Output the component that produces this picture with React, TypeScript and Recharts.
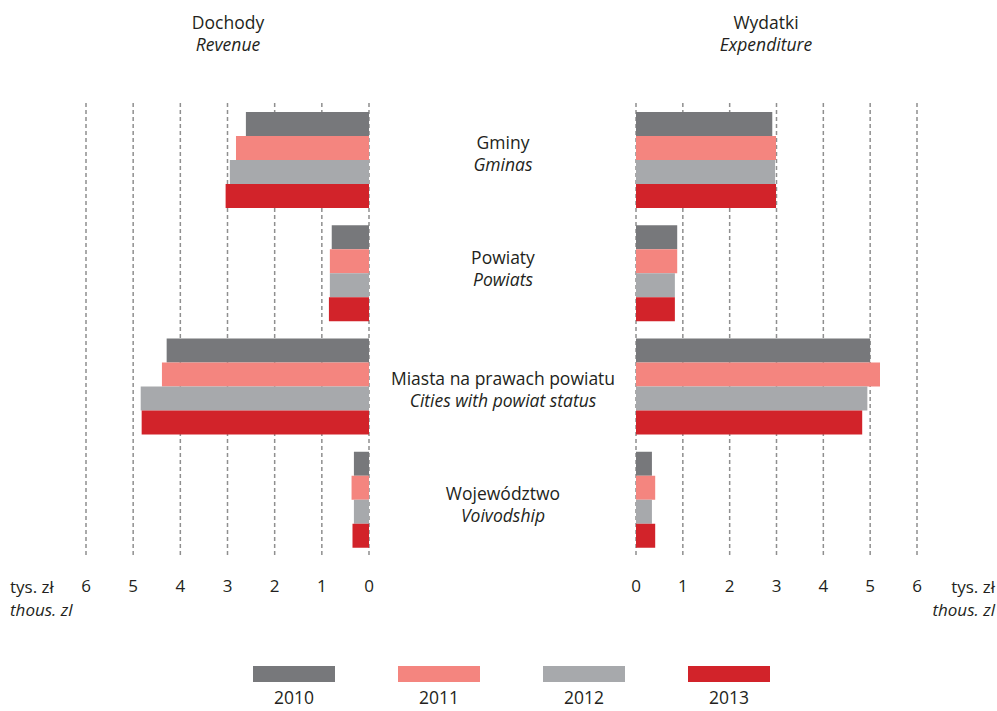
import { BarChart, Bar, XAxis, YAxis, CartesianGrid } from 'recharts'

const categories = ['Gminy', 'Powiaty', 'Miasta na prawach powiatu', 'Województwo']
const categoriesEn = ['Gminas', 'Powiats', 'Cities with powiat status', 'Voivodship']
const years = ['2010', '2011', '2012', '2013']
const colors = ['#77787b', '#f4857f', '#a7a9ac', '#d2232a']

// thous. zl per capita
const revenue2010 = [2.61, 0.79, 4.29, 0.32]
const revenue2011 = [2.82, 0.83, 4.39, 0.37]
const revenue2012 = [2.95, 0.83, 4.84, 0.32]
const revenue2013 = [3.04, 0.85, 4.82, 0.35]

const expenditure2010 = [2.91, 0.88, 5.0, 0.34]
const expenditure2011 = [2.99, 0.88, 5.21, 0.41]
const expenditure2012 = [2.97, 0.83, 4.94, 0.34]
const expenditure2013 = [2.99, 0.83, 4.83, 0.41]

const xTicks = [0, 1, 2, 3, 4, 5, 6]

const FONT = '"Open Sans", sans-serif'
const TEXT = '#231f20'

function buildRows(series: number[][]) {
  return categories.map((c, i) => {
    const row: Record<string, number | string> = { name: c, en: categoriesEn[i] }
    years.forEach((y, k) => {
      row[y] = series[k][i]
    })
    return row
  })
}

const revenueRows = buildRows([revenue2010, revenue2011, revenue2012, revenue2013])
const expenditureRows = buildRows([expenditure2010, expenditure2011, expenditure2012, expenditure2013])

// small nudges so the two-line labels sit where they do in the source
const labelShift = [-6, -4, 4, 6]
const RIGHT_LEFT = 350 // page x of the right chart's svg
const LABEL_X = 503 - RIGHT_LEFT

function CategoryTick(props: any) {
  const { y, payload, index } = props
  const shift = labelShift[index] ?? 0
  const en = categoriesEn[categories.indexOf(payload.value)]
  return (
    <g>
      <text x={LABEL_X} y={y - 5 + shift} textAnchor="middle" fill={TEXT} fontSize={17.5} fontFamily={FONT}>
        {payload.value}
      </text>
      <text x={LABEL_X} y={y + 17 + shift} textAnchor="middle" fill={TEXT} fontSize={17.5} fontFamily={FONT} fontStyle="italic">
        {en}
      </text>
    </g>
  )
}

const tickStyle = { fill: TEXT, fontSize: 17, fontFamily: FONT }

const abs = (left: number, top: number, extra: React.CSSProperties = {}): React.CSSProperties => ({
  position: 'absolute',
  left,
  top,
  fontFamily: FONT,
  fontSize: 17.5,
  color: TEXT,
  lineHeight: '22px',
  whiteSpace: 'nowrap',
  ...extra,
})

export default function App() {
  return (
    <div style={{ position: 'absolute', left: 0, top: 0, width: 997, height: 711, background: '#fff' }}>
      {/* titles */}
      <div style={abs(128, 11, { width: 200, textAlign: 'center' })}>Dochody</div>
      <div style={abs(128, 33, { width: 200, textAlign: 'center', fontStyle: 'italic' })}>Revenue</div>
      <div style={abs(666, 11, { width: 200, textAlign: 'center' })}>Wydatki</div>
      <div style={abs(666, 33, { width: 200, textAlign: 'center', fontStyle: 'italic' })}>Expenditure</div>

      {/* revenue (left, reversed axis) */}
      <div style={{ position: 'absolute', left: 0, top: 0 }}>
        <BarChart
          width={385}
          height={620}
          data={revenueRows}
          layout="vertical"
          barSize={24}
          barGap={0}
          margin={{ top: 103, right: 16, bottom: 34, left: 86 }}
        >
          <CartesianGrid horizontal={false} stroke="#8f8f8f" strokeWidth={1.5} strokeDasharray="4 3" />
          <XAxis
            type="number"
            domain={[0, 6]}
            ticks={xTicks}
            reversed
            height={30}
            axisLine={false}
            tickLine={false}
            tickMargin={18}
            tick={tickStyle}
            interval={0}
          />
          <YAxis type="category" dataKey="name" hide />
          {years.map((y, k) => (
            <Bar key={y} dataKey={y} fill={colors[k]} isAnimationActive={false} />
          ))}
        </BarChart>
      </div>

      {/* expenditure (right) */}
      <div style={{ position: 'absolute', left: RIGHT_LEFT, top: 0 }}>
        <BarChart
          width={997 - RIGHT_LEFT}
          height={620}
          data={expenditureRows}
          layout="vertical"
          barSize={24}
          barGap={0}
          margin={{ top: 103, right: 80, bottom: 34, left: 0 }}
        >
          <CartesianGrid horizontal={false} stroke="#8f8f8f" strokeWidth={1.5} strokeDasharray="4 3" />
          <XAxis
            type="number"
            domain={[0, 6]}
            ticks={xTicks}
            height={30}
            axisLine={false}
            tickLine={false}
            tickMargin={18}
            tick={tickStyle}
            interval={0}
          />
          <YAxis
            type="category"
            dataKey="name"
            width={636 - RIGHT_LEFT}
            axisLine={false}
            tickLine={false}
            tick={<CategoryTick />}
          />
          {years.map((y, k) => (
            <Bar key={y} dataKey={y} fill={colors[k]} isAnimationActive={false} />
          ))}
        </BarChart>
      </div>

      {/* unit labels */}
      <div style={abs(10, 576, { fontSize: 17 })}>tys. zł</div>
      <div style={abs(10, 599, { fontSize: 17, fontStyle: 'italic' })}>thous. zl</div>
      <div style={abs(893, 576, { width: 102, textAlign: 'right', fontSize: 17 })}>tys. zł</div>
      <div style={abs(893, 599, { width: 102, textAlign: 'right', fontSize: 17, fontStyle: 'italic' })}>thous. zl</div>

      {/* legend */}
      {years.map((y, k) => (
        <div key={y} style={{ position: 'absolute', left: 253 + k * 145, top: 666, width: 82 }}>
          <div style={{ height: 16, background: colors[k] }} />
          <div style={{ textAlign: 'center', fontFamily: FONT, fontSize: 17.5, color: TEXT, marginTop: 4, lineHeight: '22px' }}>
            {y}
          </div>
        </div>
      ))}
    </div>
  )
}
